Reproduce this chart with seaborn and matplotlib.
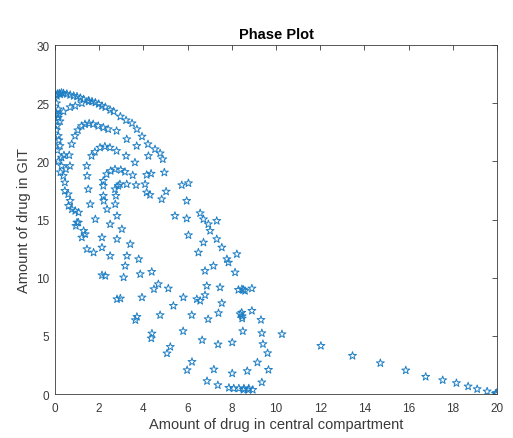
import matplotlib
matplotlib.use("Agg")
import matplotlib.pyplot as plt
import seaborn as sns
import pandas as pd

# Amount of drug in the central compartment (x) and in the GIT (y)
central = [
    # outer upper arc
    0.09, 0.24, 0.39, 0.54, 0.69, 0.85, 1.00, 1.15, 1.30, 1.53, 1.68, 1.83, 1.98, 2.13,
    2.28, 2.50, 2.66, 2.96, 3.22, 3.49, 3.71, 3.94, 4.21, 4.53, 4.76, 4.88, 4.95, 5.74,
    6.04, 5.96, 6.57, 6.72, 6.94, 7.02, 7.32, 7.32, 7.55, 7.78, 7.85, 8.23, 8.15, 8.30,
    8.53, 8.38, 8.47, 8.50, 8.70, 8.77,
    # right cluster
    8.46, 8.60, 8.91, 8.45, 8.47, 8.91, 9.32, 9.36, 10.27, 9.41, 9.62, 9.16, 9.66, 9.36,
    8.53, 8.75, 8.95,
    # tail
    12.03, 13.46, 14.72, 15.87, 16.77, 17.54, 18.16, 18.69, 19.10, 19.55, 19.93, 20.00, 19.97,
    # middle band
    4.83, 5.43, 5.96, 6.04, 6.72, 6.49, 7.17, 6.79, 4.38, 4.68, 4.48, 5.13, 6.87, 7.47,
    5.81, 6.42, 6.57, 6.79, 5.36, 7.55, 4.76, 6.19, 7.40, 3.64, 3.71, 6.93, 4.39, 4.36,
    5.80, 6.66, 7.38, 8.02, 5.22, 5.07, 6.20, 5.98, 7.19, 8.02, 6.88, 7.37, 7.87, 8.09,
    8.32, 8.55,
    # lower left band
    0.69, 0.62, 0.77, 0.92, 1.07, 1.00, 0.95, 1.30, 1.37, 1.22, 1.45, 1.75, 2.13, 1.60,
    2.21, 2.36, 2.73, 2.81, 1.83, 2.50, 3.03, 2.13, 2.81, 3.41, 2.50, 3.26, 3.79, 3.18,
    3.86, 2.13, 2.28, 3.11, 2.96, 2.81, 3.94,
    # left edge columns
    0.15, 0.15, 0.10, 0.15, 0.23, 0.30, 0.30, 0.38, 0.45, 0.45, 0.60, 0.07, 0.09, 0.23,
    0.07, 0.18, 0.11, 0.41, 0.16, 0.50, 0.25, 0.05, 0.12, 0.20, 0.30,
    # second arc
    0.17, 0.39, 0.69, 0.92, 1.22, 1.53,
    # third arc
    0.91, 0.76, 0.65, 0.68, 1.21, 1.36, 1.55, 1.73, 1.96, 2.19, 2.41, 2.79, 3.25, 3.70,
    4.23, 4.15, 1.04, 4.35, 5.03, 4.30,
    # fourth arc
    1.66, 1.81, 2.04, 2.26, 2.49, 2.79, 3.22, 3.62, 1.44, 1.46, 1.51,
    # fifth arc
    2.19, 2.34, 2.52, 2.72, 2.98, 3.17, 3.52, 3.67, 4.08, 4.15, 2.19, 2.19, 2.76, 2.87,
    3.25, 2.72, 2.94, 1.06,
]
git = [
    # outer upper arc
    25.63, 25.77, 25.85, 25.80, 25.71, 25.63, 25.58, 25.46, 25.34, 25.23, 25.15, 25.06,
    24.94, 24.77, 24.66, 24.42, 24.29, 23.86, 23.54, 23.28, 22.77, 22.14, 21.48, 21.05,
    20.70, 20.19, 19.05, 17.96, 18.13, 16.61, 15.55, 15.03, 14.60, 14.03, 14.89, 13.32,
    12.60, 11.60, 11.31, 12.03, 10.46, 8.96, 8.96, 6.87, 6.50, 5.41, 1.98, 0.49,
    # right cluster
    9.02, 8.87, 9.08, 7.00, 6.70, 7.16, 6.38, 5.24, 5.15, 4.30, 3.52, 2.72, 2.09, 1.01,
    0.37, 0.37, 0.37,
    # tail
    4.15, 3.29, 2.66, 2.04, 1.49, 1.20, 0.95, 0.66, 0.43, 0.23, 0.04, 0.00, 0.10,
    # middle band
    16.75, 15.32, 15.09, 13.66, 13.03, 12.17, 11.02, 10.59, 10.51, 9.45, 9.02, 9.08, 9.30,
    9.17, 8.31, 8.16, 8.02, 8.51, 7.59, 7.82, 6.79, 6.79, 6.96, 6.36, 6.64, 6.44, 5.21,
    4.79, 5.41, 4.64, 4.27, 4.44, 4.06, 3.50, 2.77, 2.06, 2.12, 1.78, 1.12, 0.77, 0.54,
    0.49, 0.49, 0.49,
    # lower left band
    16.61, 16.18, 15.89, 15.75, 15.61, 14.75, 14.46, 14.03, 13.75, 13.46, 12.46, 12.17,
    12.60, 16.32, 16.61, 15.89, 16.32, 15.32, 15.03, 14.60, 14.18, 13.46, 13.32, 12.89,
    11.88, 11.88, 11.60, 11.02, 10.31, 10.22, 10.16, 10.03, 8.22, 8.16, 8.31,
    # left edge columns
    24.48, 23.77, 23.05, 22.19, 21.33, 20.34, 19.61, 18.75, 18.19, 17.47, 17.18, 25.00,
    24.05, 23.45, 22.68, 21.82, 20.96, 20.53, 20.02, 19.33, 19.07, 25.70, 25.80, 25.85,
    25.90,
    # second arc
    24.00, 24.29, 24.66, 24.77, 25.00, 25.15,
    # third arc
    22.19, 21.48, 20.53, 19.61, 23.05, 23.20, 23.26, 23.20, 23.05, 22.91, 22.77, 22.62,
    21.91, 21.33, 20.47, 18.84, 22.68, 18.95, 17.41, 17.12,
    # fourth arc
    20.47, 20.82, 21.19, 21.28, 21.19, 20.90, 20.47, 19.91, 19.61, 18.75, 17.61,
    # fifth arc
    18.33, 18.90, 19.18, 19.33, 19.27, 19.10, 18.81, 17.96, 18.04, 17.33, 17.90, 17.04,
    17.04, 17.90, 18.04, 17.61, 18.04, 14.75,
]

x_ticks = [0, 2, 4, 6, 8, 10, 12, 14, 16, 18, 20]
y_ticks = [0, 5, 10, 15, 20, 25, 30]

df = pd.DataFrame({"central": central, "git": git})

sns.set_style("white")
plt.rcParams["font.family"] = ["Liberation Sans", "DejaVu Sans"]

fig = plt.figure(figsize=(5.13, 4.39), dpi=100)
ax = fig.add_axes([0.107, 0.100, 0.862, 0.795])

sns.scatterplot(
    data=df, x="central", y="git", ax=ax,
    marker="*", s=36, facecolor="none", edgecolor="#1f7fc4", linewidth=0.7,
)

ax.set_xlim(0, 20)
ax.set_ylim(0, 30)
ax.set_xticks(x_ticks)
ax.set_yticks(y_ticks)
ax.tick_params(direction="in", length=3.5, width=0.6, colors="#3a3a3a",
               labelsize=8.5, top=True, right=True)
ax.tick_params(axis="x", pad=6)
ax.tick_params(axis="y", pad=4)
for side in ax.spines.values():
    side.set_visible(True)
    side.set_color("#3a3a3a")
    side.set_linewidth(0.6)

ax.set_title("Phase Plot", fontsize=10.5, fontweight="bold", color="black", pad=5)
ax.set_xlabel("Amount of drug in central compartment", fontsize=10.5, color="#3a3a3a", labelpad=2)
ax.set_ylabel("Amount of drug in GIT", fontsize=10.5, color="#3a3a3a", labelpad=4)

fig.savefig("out.png", dpi=100, facecolor="white")
